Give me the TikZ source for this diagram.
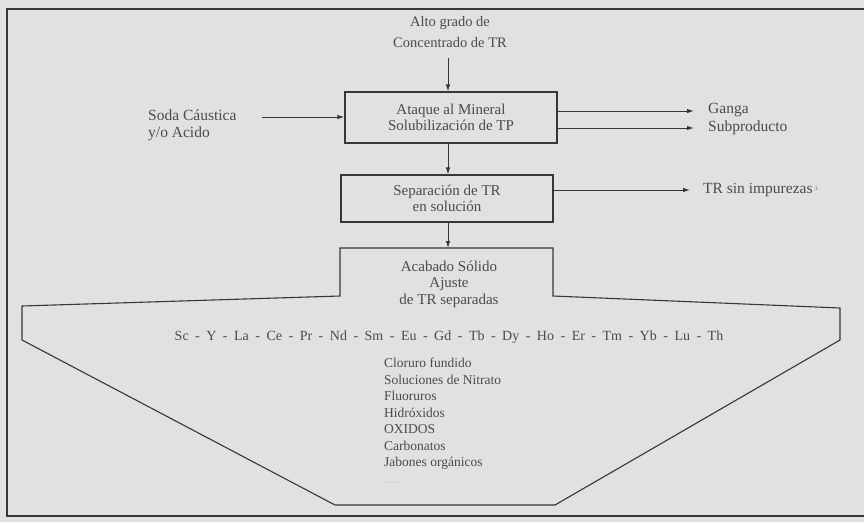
\documentclass[tikz,border=0pt]{standalone}
\usepackage{fontspec}
\setmainfont{Liberation Serif}
\usetikzlibrary{arrows.meta}
\definecolor{bg}{RGB}{223,226,223}
\definecolor{ink}{RGB}{55,55,55}
\definecolor{txt}{RGB}{75,75,75}
\newcommand{\sepel}{\hspace{6.5pt}-\hspace{6.5pt}}
\begin{document}
\begin{tikzpicture}[x=1pt,y=-1pt,
  every node/.style={text=txt,font=\fontsize{14}{16.5}\selectfont,inner sep=0pt},
  sidelabel/.style={font=\fontsize{15.5}{17}\selectfont},
  boxtext/.style={font=\fontsize{15}{16.5}\selectfont},
  flowline/.style={draw=ink,line width=1pt},
  flowarrow/.style={flowline,-{Latex[length=7pt,width=4.5pt]}},
  procbox/.style={draw=ink,line width=1.1pt,minimum width=212pt,align=center,boxtext}]
\useasboundingbox (0,0) rectangle (864,522);
\fill[bg] (0,0) rectangle (864,522);
% frame
\draw[ink,line width=1.3pt] (864,9) -- (7,9) -- (7,516) -- (864,516);
% top input
\node[align=center,font=\fontsize{14.5}{21}\selectfont] (alto) at (450,32) {Alto grado de\\Concentrado de TR};
\node[procbox,minimum height=51pt] (b1) at (451,117.5) {Ataque al Mineral\\Solubilización de TP};
\coordinate (altoend) at (448,58);
\draw[flowarrow] (altoend) -- (b1.north -| altoend);
% left input
\node[align=left,anchor=west,sidelabel] (soda) at (148,125) {Soda Cáustica\\y/o Acido};
\coordinate (sodaend) at (262,117);
\draw[flowarrow] (sodaend) -- (sodaend -| b1.west);
% outputs
\node[anchor=west,sidelabel] (ganga) at (708,110) {Ganga};
\node[anchor=west,sidelabel] (subp) at (708,128) {Subproducto};
\coordinate (g1) at (557,111);
\coordinate (s1) at (557,128);
\draw[flowarrow] (g1) -- ++(137,0);
\draw[flowarrow] (s1) -- ++(137,0);
% box 2
\node[procbox,minimum height=47pt] (b2) at (447,198.5) {Separación de TR\\en solución};
\coordinate (c1) at (448,143);
\draw[flowarrow] (c1) -- (c1 |- b2.north);
\node[anchor=west,sidelabel] (trs) at (703,190) {TR sin impurezas\,\raisebox{3pt}{\tiny 3}};
\coordinate (t1) at (553,190);
\draw[flowarrow] (t1) -- ++(137,0);
% final shape
\coordinate (c2) at (448,222);
\draw[flowline,line width=1.1pt] (340,248) -- (553,248) -- (553,296) -- (840,308) -- (840,340)
  -- (555,505) -- (335,505) -- (22,340) -- (22,306) -- (340,296) -- cycle;
\coordinate (topshape) at (448,248);
\draw[flowarrow] (c2) -- (topshape);
\node[align=center,boxtext] (acab) at (449,284) {Acabado Sólido\\Ajuste\\de TR separadas};
\node (elem) at (449,337) {Sc\sepel Y\sepel La\sepel Ce\sepel Pr\sepel Nd\sepel Sm\sepel Eu\sepel Gd\sepel Tb\sepel Dy\sepel Ho\sepel Er\sepel Tm\sepel Yb\sepel Lu\sepel Th};
\node[align=left,anchor=north west,font=\fontsize{13.5}{16.5}\selectfont] (lista) at (384,358) {Cloruro fundido\\Soluciones de Nitrato\\Fluoruros\\Hidróxidos\\OXIDOS\\Carbonatos\\Jabones orgánicos\\{\tiny . . . . . .}};
\end{tikzpicture}
\end{document}
